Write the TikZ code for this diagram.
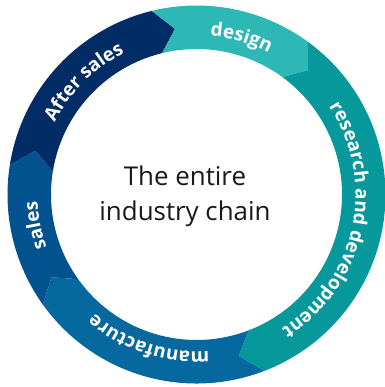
\documentclass[tikz,border=0pt]{standalone}
\usepackage{fontspec}
\setmainfont{Open Sans}
\usetikzlibrary{decorations.text}

\definecolor{aftersales}{HTML}{022C66}
\definecolor{design}{HTML}{2DB8B6}
\definecolor{research}{HTML}{06989A}
\definecolor{manufacture}{HTML}{05689F}
\definecolor{sales}{HTML}{02528F}

\tikzset{
  ringlabel/.style={decorate, decoration={text along path,
      text={|\fontsize{19}{23}\selectfont\bfseries|#1},
      text align=center, text color=white}},
  centretext/.style={anchor=base, font=\fontsize{26}{31}\selectfont, text=black!90}
}

\begin{document}
\begin{tikzpicture}[x=1bp,y=1bp]
    \useasboundingbox[fill=white] (-196.5,-192.5) rectangle (188.5,194.5);
    \coordinate (o) at (0,0);
    % ring segments, each one pointing clockwise into the next
    \fill[aftersales] (171:189) arc[start angle=171, end angle=103.7, radius=189]
        -- (97.4:167) -- (103.7:145.5) arc[start angle=103.7, end angle=171, radius=145.5]
        -- (164.8:167) -- cycle;
    \fill[design] (103.7:189) arc[start angle=103.7, end angle=53.8, radius=189]
        -- (48.1:167) -- (53.8:145.5) arc[start angle=53.8, end angle=103.7, radius=145.5]
        -- (97.4:167) -- cycle;
    \fill[research] (53.8:189) arc[start angle=53.8, end angle=-69, radius=189]
        -- (-75.4:167) -- (-69:145.5) arc[start angle=-69, end angle=53.8, radius=145.5]
        -- (48.1:167) -- cycle;
    \fill[manufacture] (-69:189) arc[start angle=-69, end angle=-144.4, radius=189]
        -- (-150.3:167) -- (-144.4:145.5) arc[start angle=-144.4, end angle=-69, radius=145.5]
        -- (-75.4:167) -- cycle;
    \fill[sales] (215.6:189) arc[start angle=215.6, end angle=171, radius=189]
        -- (164.8:167) -- (171:145.5) arc[start angle=171, end angle=215.6, radius=145.5]
        -- (209.7:167) -- cycle;
    % labels along the ring
    \path[ringlabel=After sales] (205:159) arc[start angle=205, end angle=65, radius=159];
    \path[ringlabel=design] (144:159) arc[start angle=144, end angle=4, radius=159];
    \path[ringlabel=research and development] (63:159) arc[start angle=63, end angle=-87, radius=159];
    \path[ringlabel=manufacture] (-38:157) arc[start angle=-38, end angle=-178, radius=157];
    \path[ringlabel=sales] (261:159) arc[start angle=261, end angle=121, radius=159];
    % centre
    \node[centretext] (line1) at (-11.5,9.5) {The entire};
    \node[centretext] (line2) at (-11.5,-25.5) {industry chain};
\end{tikzpicture}
\end{document}
